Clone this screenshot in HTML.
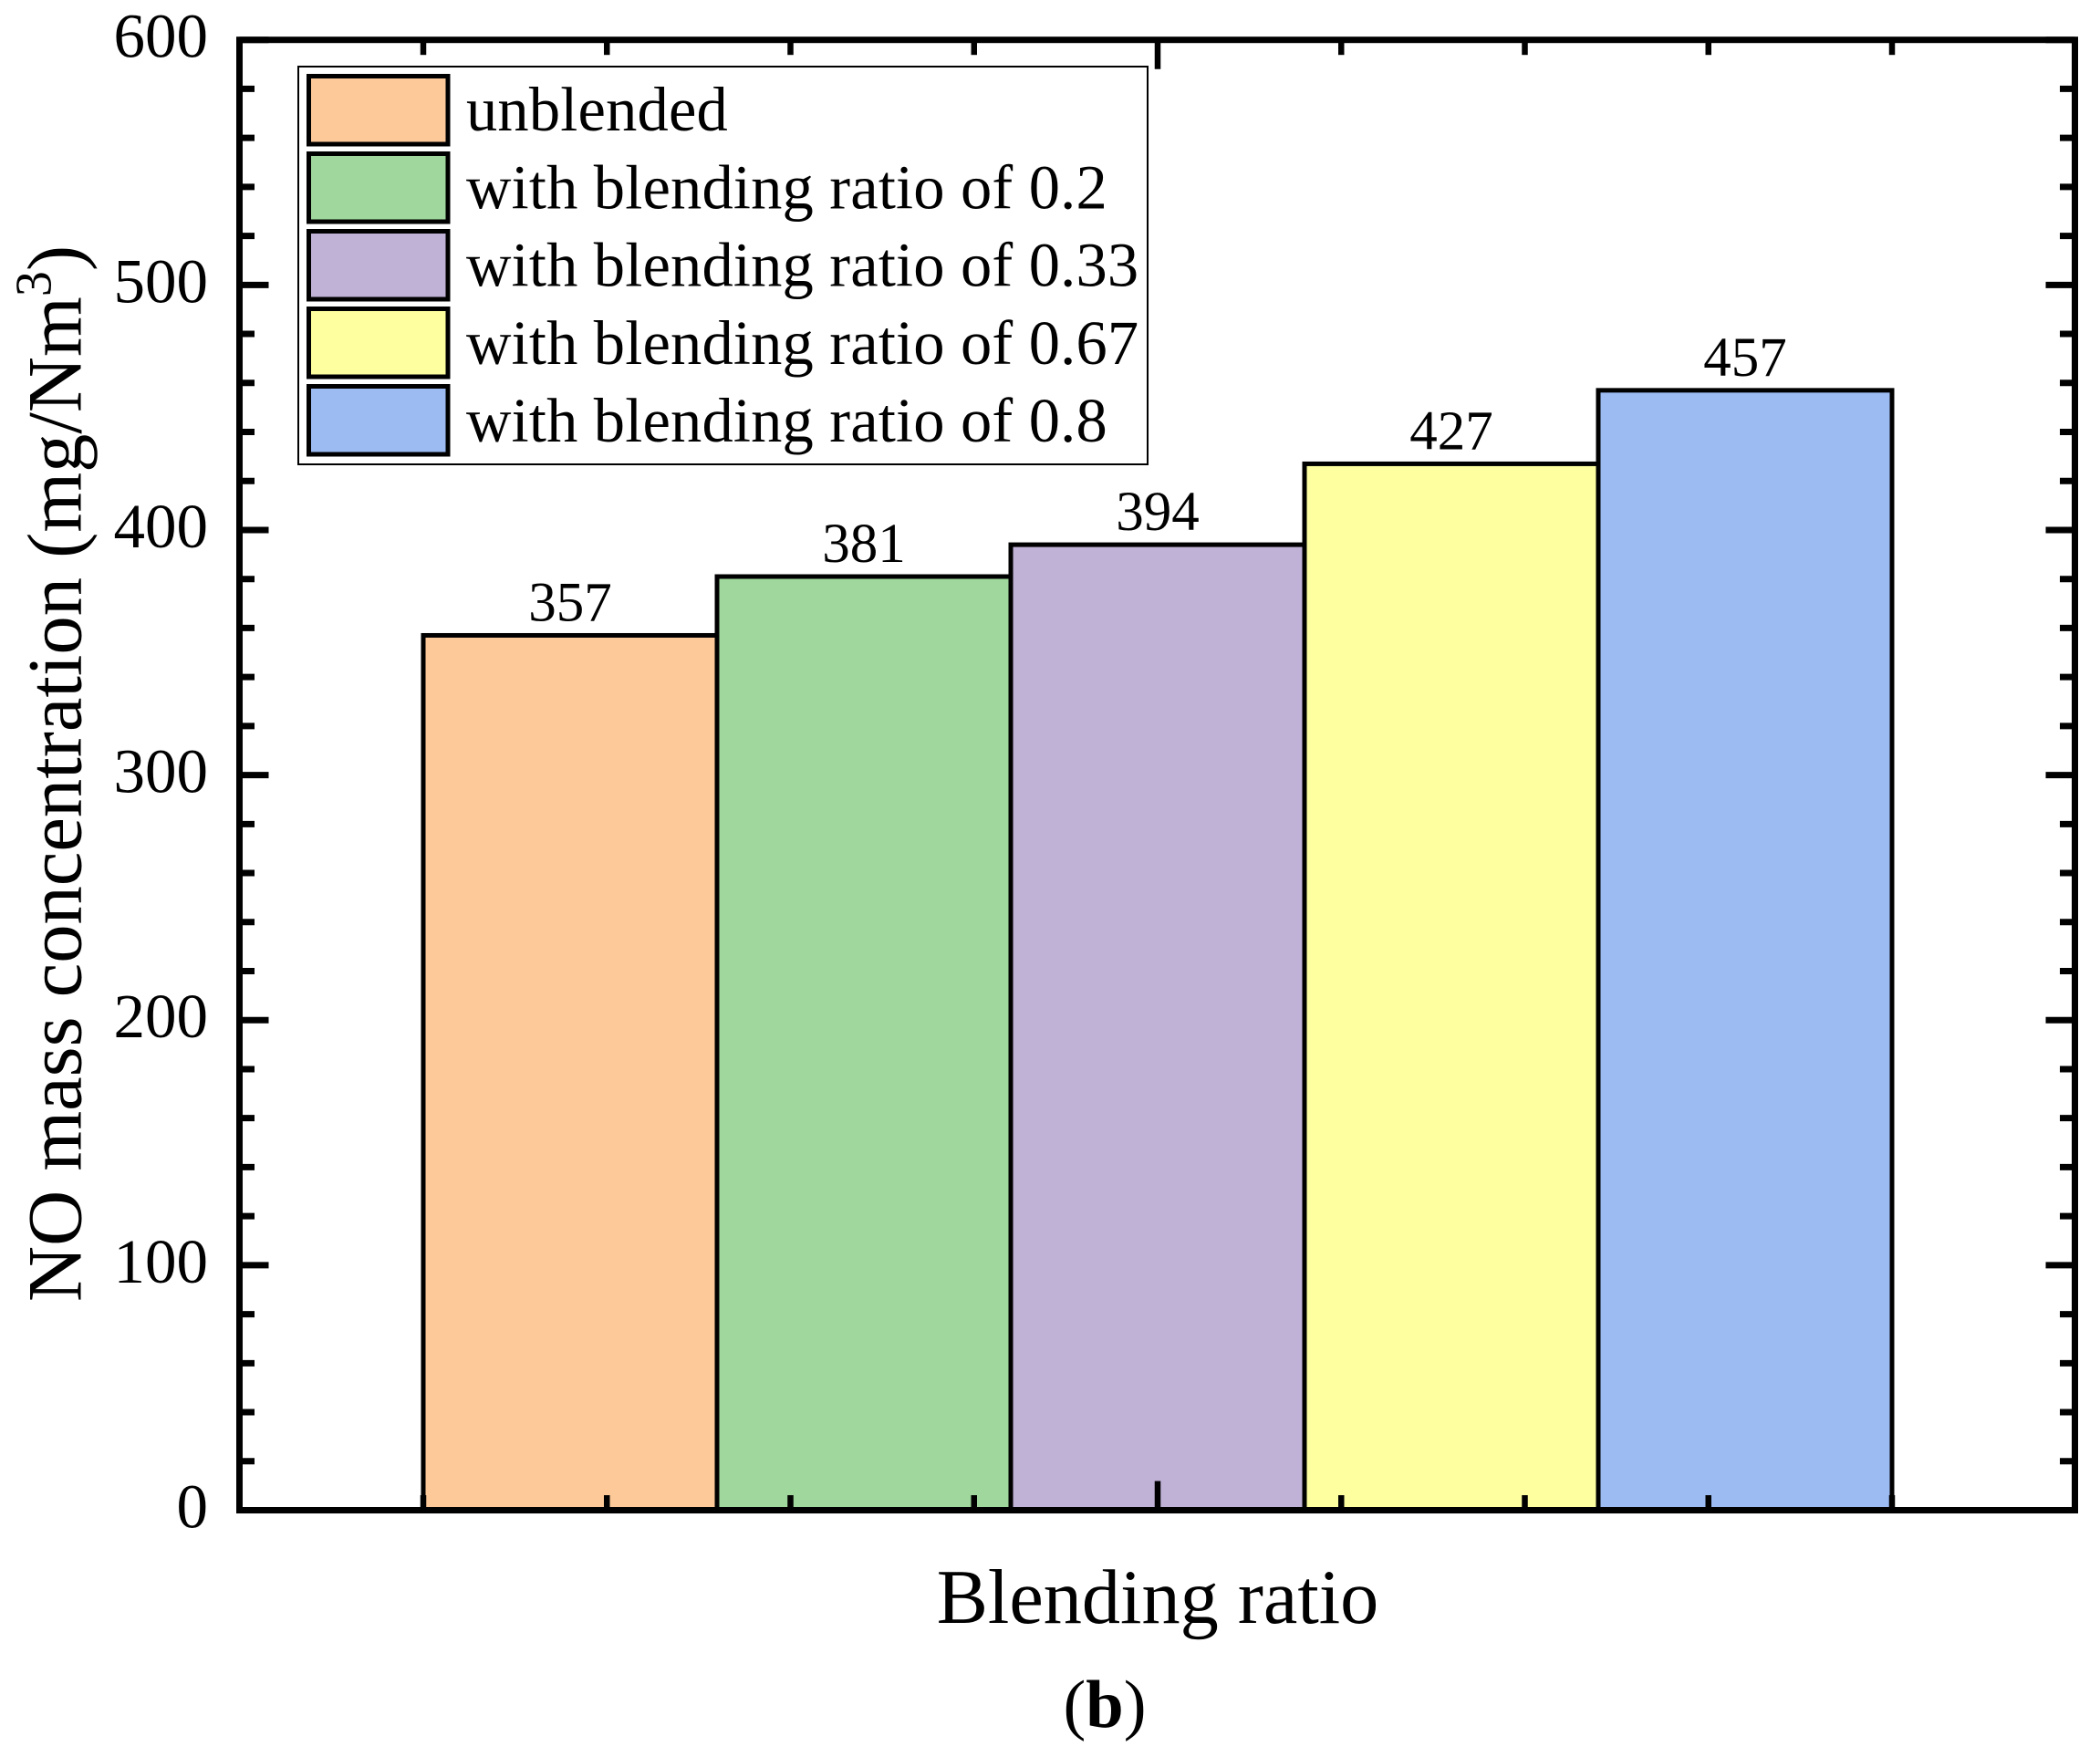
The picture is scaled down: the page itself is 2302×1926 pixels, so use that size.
<!DOCTYPE html>
<html>
<head>
<meta charset="utf-8">
<title>NO mass concentration vs blending ratio</title>
<style>
html,body{margin:0;padding:0;background:#fff;}
svg{display:block;font-family:"Liberation Serif",serif;fill:#000;}
</style>
</head>
<body>
<svg id="chart" xmlns="http://www.w3.org/2000/svg" width="2302" height="1926" viewBox="0 0 2302 1926">
  <rect x="0" y="0" width="2302" height="1926" fill="#fff"/>
  <g id="bars"></g>
  <g id="ticks"></g>
  <rect x="262.5" y="43.7" width="2012" height="1611.8" fill="none" stroke="#000" stroke-width="7"/>
  <g id="y-labels"></g>
  <g id="legend"></g>
  <text transform="translate(88.5,1427) rotate(-90)" font-size="84.6">NO mass concentration (mg/Nm<tspan font-size="56" dy="-33">3</tspan><tspan dy="33">)</tspan></text>
  <text x="1269" y="1779" font-size="84.3" text-anchor="middle">Blending ratio</text>
  <text x="1211" y="1893" font-size="74.5" text-anchor="middle">(<tspan font-weight="bold">b</tspan>)</text>
</svg>
<script>
const categories = ["unblended", "with blending ratio of 0.2", "with blending ratio of 0.33", "with blending ratio of 0.67", "with blending ratio of 0.8"];
const values = [357, 381, 394, 427, 457];
const colors = ["#FDC998", "#9FD79C", "#C0B1D6", "#FEFF9F", "#9CBBF3"];
const yTickLabels = [0, 100, 200, 300, 400, 500, 600];

const NS = "http://www.w3.org/2000/svg";
const Y_MAX = 600, PLOT_TOP = 43.7, PLOT_BOTTOM = 1655.5, PLOT_LEFT = 262.5, PLOT_RIGHT = 2274.5;
const BAR_LEFT = 464, BAR_STEP = 322, X_TICK_STEP = 201.25;

function yScale(v) { return PLOT_BOTTOM - (v / Y_MAX) * (PLOT_BOTTOM - PLOT_TOP); }
function xScale(i) { return BAR_LEFT + i * BAR_STEP; }
function make(tag, attrs, parent) {
  const el = document.createElementNS(NS, tag);
  for (const k in attrs) el.setAttribute(k, attrs[k]);
  parent.appendChild(el);
  return el;
}

const barsG = document.getElementById("bars");
values.forEach(function (v, i) {
  const bar = make("rect", { x: xScale(i), y: yScale(v), width: BAR_STEP, height: yScale(0) - yScale(v), fill: colors[i], stroke: "#000", "stroke-width": 5 }, barsG);
  
  
  const label = make("text", { x: xScale(i) + BAR_STEP / 2, y: yScale(v) - 16, "font-size": 61, "text-anchor": "middle" }, barsG);
  
  
  label.textContent = v;
});

const ticksG = document.getElementById("ticks");
function tick(x1, y1, x2, y2, w) {
  const t = make("line", { x1: x1, y1: y1, x2: x2, y2: y2, stroke: "#000", "stroke-width": w }, ticksG);
  
  
}
for (let v = 0; v <= Y_MAX; v += 20) {
  const len = v % 100 === 0 ? 32 : 16.5;
  tick(PLOT_LEFT, yScale(v), PLOT_LEFT + len, yScale(v), 7);
  tick(PLOT_RIGHT, yScale(v), PLOT_RIGHT - len, yScale(v), 7);
}
for (let i = 0; i < 9; i++) {
  const x = BAR_LEFT + i * X_TICK_STEP;
  const len = i === 4 ? 32 : 16.5;
  tick(x, PLOT_BOTTOM, x, PLOT_BOTTOM - len, 6.5);
  tick(x, PLOT_TOP, x, PLOT_TOP + len, 6.5);
}

const yLabelsG = document.getElementById("y-labels");
yTickLabels.forEach(function (v) {
  const t = make("text", { x: 228, y: yScale(v) + 19, "font-size": 69, "text-anchor": "end" }, yLabelsG);
  
  
  t.textContent = v;
});

const legendG = document.getElementById("legend");
const legendBox = make("rect", { x: 327, y: 73, width: 931, height: 436, fill: "#fff", stroke: "#000", "stroke-width": 2 }, legendG);


categories.forEach(function (c, i) {
  const y = 83.5 + i * 85;
  const sw = make("rect", { x: 338.5, y: y, width: 152.5, height: 74.5, fill: colors[i], stroke: "#000", "stroke-width": 5 }, legendG);
  
  
  const t = make("text", { x: 511, y: 143.2 + i * 85.2, "font-size": 68.5, "letter-spacing": 0.18 }, legendG);
  
  
  t.textContent = c;
});
</script>
</body>
</html>
